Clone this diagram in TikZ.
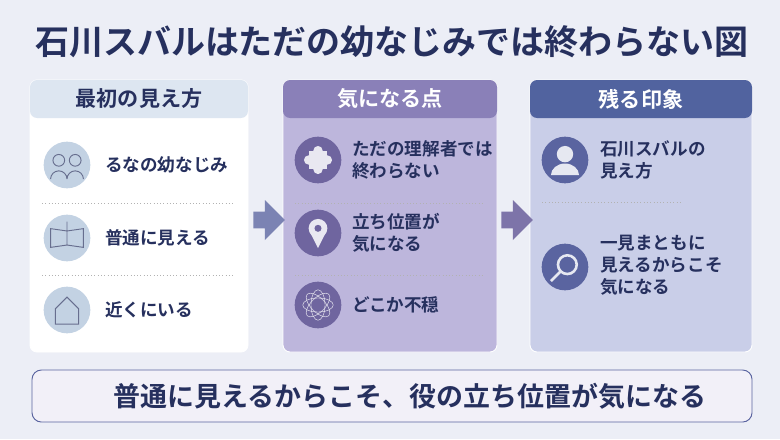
\documentclass[tikz,border=0pt]{standalone}
\usepackage{fontspec}
\setmainfont{Noto Sans CJK JP}
\newfontfamily\jpbold{Noto Sans CJK JP Bold}
\usetikzlibrary{positioning,shapes.arrows}
\definecolor{navy}{HTML}{26305E}
\definecolor{paleblue}{HTML}{DDE6F1}
\definecolor{midpurple}{HTML}{8A80B8}
\definecolor{midbody}{HTML}{BDB6DC}
\definecolor{deepblue}{HTML}{51639F}
\definecolor{rightbody}{HTML}{C9CEE8}
\definecolor{iconblue}{HTML}{C3D2E3}
\definecolor{iconpurple}{HTML}{6F659F}
\definecolor{iconnavy}{HTML}{5A64A0}
\definecolor{bgwash}{HTML}{ECEEF6}

\begin{document}
\begin{tikzpicture}[x=0.03cm,y=-0.03cm]
  \tikzset{panel/.style={rounded corners=6pt, draw=white, thick},
  head/.style={font=\jpbold\fontsize{18}{21}\selectfont},
  item/.style={font=\jpbold\fontsize{15}{19}\selectfont, text=navy, anchor=west, align=left},
  icon/.style={circle, inner sep=0pt, minimum size=1.4cm},
  sep/.style={dotted, thick, gray!60},
  flow/.style={single arrow, draw=none, fill=#1, minimum height=0.95cm, minimum width=1.2cm, single arrow head extend=5pt}}
\fill[bgwash] (0,0) rectangle (780,439);
\useasboundingbox (0,0) rectangle (780,439);
% title
\node[font=\jpbold\fontsize{29}{34}\selectfont, text=navy] (title) at (392,42) {石川スバルはただの幼なじみでは終わらない図};
% panels
\fill[panel, fill=white] (30,80) rectangle (248,352);
\fill[rounded corners=6pt, fill=paleblue] (30,80) rectangle (248,118);
\node[head, text=navy] (h1) at (139,99) {最初の見え方};
\fill[panel, fill=midbody] (283,80) rectangle (497,352);
\fill[rounded corners=6pt, fill=midpurple] (283,80) rectangle (497,118);
\node[head, text=white] (h2) at (390,99) {気になる点};
\fill[panel, fill=rightbody] (530,80) rectangle (752,352);
\fill[rounded corners=6pt, fill=deepblue] (530,80) rectangle (752,118);
\node[head, text=white] (h3) at (641,99) {残る印象};
% separators
\draw[sep] (42,203) -- (234,203);
\draw[sep] (42,275) -- (234,275);
\draw[sep] (295,203) -- (485,203);
\draw[sep] (295,275) -- (485,275);
\draw[sep] (542,202) -- (680,202);
% left column
\node[icon, fill=iconblue] (i1) at (67,165) {};
\node[icon, fill=iconblue] (i2) at (67,238) {};
\node[icon, fill=iconblue] (i3) at (67,310) {};
\draw[navy!70, thick] ([xshift=-7pt,yshift=4pt]i1.center) circle (5pt) ([xshift=7pt,yshift=4pt]i1.center) circle (5pt)
  ([xshift=-14pt,yshift=-12pt]i1.center) arc (180:0:7pt) ([xshift=0pt,yshift=-12pt]i1.center) arc (180:0:7pt);
\draw[navy!70, thick] ([xshift=-14pt,yshift=-8pt]i2.center) -- ++(0,16pt) -- ++(14pt,-2pt) -- ++(14pt,2pt) -- ++(0,-16pt) -- ++(-14pt,2pt) -- cycle
  ([yshift=-6pt]i2.center) -- ([yshift=14pt]i2.center);
\draw[navy!70, thick] ([xshift=-10pt,yshift=-12pt]i3.center) -- ++(0,13pt) -- ++(10pt,10pt) -- ++(10pt,-10pt) -- ++(0,-13pt) -- cycle;
\node[item] (t1) at (101,165) {るなの幼なじみ};
\node[item] (t2) at (101,238) {普通に見える};
\node[item] (t3) at (101,310) {近くにいる};
% middle column
\node[icon, fill=iconpurple] (j1) at (318,160) {};
\node[icon, fill=iconpurple] (j2) at (318,233) {};
\node[icon, fill=iconpurple] (j3) at (318,305) {};
\fill[white!85!iconpurple] ([xshift=-8pt,yshift=-8pt]j1.center) rectangle ([xshift=8pt,yshift=8pt]j1.center);
\foreach \dx/\dy in {0/8,8/0,0/-8,-8/0}
  \fill[white!85!iconpurple] ([xshift=\dx pt,yshift=\dy pt]j1.center) circle (4pt);
\fill[white!85!iconpurple] ([yshift=4pt]j2.center) circle (8pt);
\fill[white!85!iconpurple] ([xshift=-7pt,yshift=1pt]j2.center) -- ([yshift=-13pt]j2.center) -- ([xshift=7pt,yshift=1pt]j2.center) -- cycle;
\fill[iconpurple] ([yshift=4pt]j2.center) circle (3pt);
\foreach \a in {0,45,90,135}
  \draw[white!85!iconpurple] (j3.center) ellipse [x radius=13pt, y radius=6pt, rotate=\a];
\node[item] (u1) at (348,160) {ただの理解者では\\終わらない};
\node[item] (u2) at (348,233) {立ち位置が\\気になる};
\node[item] (u3) at (348,305) {どこか不穏};
% right column
\node[icon, fill=iconnavy] (k1) at (565,160) {};
\node[icon, fill=iconnavy] (k2) at (565,267) {};
\fill[white!85!iconnavy] ([yshift=5pt]k1.center) circle (7pt) ([xshift=-12pt,yshift=-13pt]k1.center) arc (180:0:12pt and 10pt) -- cycle;
\draw[white!85!iconnavy, line width=2.2pt] ([xshift=2pt,yshift=2pt]k2.center) circle (8pt) ([xshift=-4pt,yshift=-4pt]k2.center) -- ([xshift=-12pt,yshift=-12pt]k2.center);
\node[item] (v1) at (596,160) {石川スバルの\\見え方};
\node[item] (v2) at (596,265) {一見まともに\\見えるからこそ\\気になる};
% flow arrows
\node[flow=iconnavy!80] (a1) at (265,220) {};
\node[flow=iconpurple!90] (a2) at (513,220) {};
% bottom bar
\draw[rounded corners=8pt, fill=white!80!midbody, draw=iconnavy, thick] (32,370) rectangle (752,422);
\node[font=\jpbold\fontsize{23}{27}\selectfont, text=navy] (msg) at (410,396) {普通に見えるからこそ、役の立ち位置が気になる};
\end{tikzpicture}
\end{document}
